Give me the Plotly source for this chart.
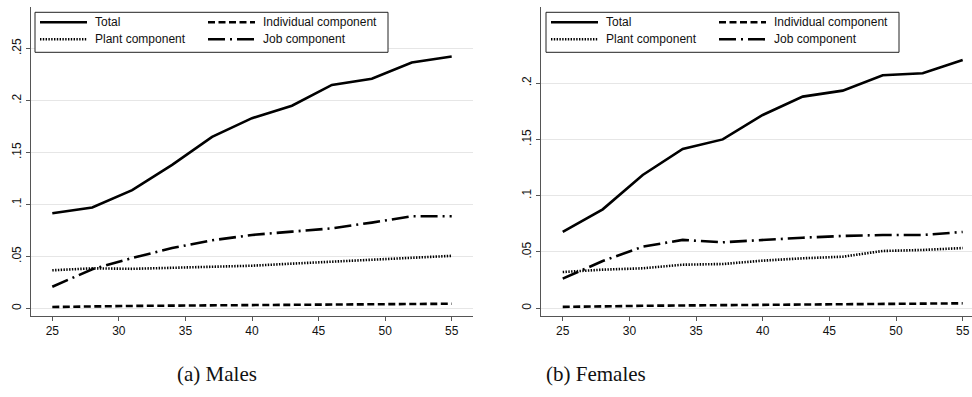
import plotly.graph_objects as go

# Age grid shared by both panels
ages = [25, 28, 31, 34, 37, 40, 43, 46, 49, 52, 55]

# Males
male_total = [0.0915, 0.097, 0.1137, 0.138, 0.165, 0.183, 0.195, 0.215, 0.221, 0.2366, 0.2424]
male_individual = [0.0013, 0.0020, 0.0023, 0.0026, 0.0028, 0.0030, 0.0032, 0.0035, 0.0038, 0.0040, 0.0044]
male_plant = [0.0366, 0.0385, 0.0380, 0.0390, 0.0405, 0.0410, 0.0430, 0.0450, 0.0470, 0.0490, 0.0505]
male_job = [0.0208, 0.0376, 0.0484, 0.0580, 0.0655, 0.0706, 0.0738, 0.0770, 0.0825, 0.0886, 0.0886]

# Females
female_total = [0.0678, 0.0879, 0.1184, 0.1415, 0.1500, 0.1717, 0.1880, 0.1933, 0.2070, 0.2087, 0.2205]
female_individual = [0.0012, 0.0019, 0.0022, 0.0025, 0.0027, 0.0029, 0.0031, 0.0034, 0.0037, 0.0040, 0.0044]
female_plant = [0.0322, 0.0343, 0.0355, 0.0387, 0.0393, 0.0423, 0.0444, 0.0458, 0.0509, 0.0518, 0.0535]
female_job = [0.0263, 0.0420, 0.0547, 0.0607, 0.0586, 0.0607, 0.0627, 0.0642, 0.0651, 0.0651, 0.0678]

series_names = ["Total", "Individual component", "Plant component", "Job component"]
x_ticks = [25, 30, 35, 40, 45, 50, 55]
male_y_ticks = [0, 0.05, 0.1, 0.15, 0.2, 0.25]
male_y_labels = ["0", ".05", ".1", ".15", ".2", ".25"]
female_y_ticks = [0, 0.05, 0.1, 0.15, 0.2]
female_y_labels = ["0", ".05", ".1", ".15", ".2"]
captions = ["(a) Males", "(b) Females"]

W, H = 972, 397
LW = 2.6
dashes = {
    "Total": "solid",
    "Individual component": "7px,3.5px",
    "Plant component": "1.4px,1.4px",
    "Job component": "17px,5px,2px,5px",
}


def px(x):
    return x / W


def py(y):
    return 1 - y / H


fig = go.Figure()

panels = [
    ("x", "y", [male_total, male_individual, male_plant, male_job]),
    ("x2", "y2", [female_total, female_individual, female_plant, female_job]),
]
for xa, ya, values in panels:
    for name, vals in zip(series_names, values):
        fig.add_trace(go.Scatter(
            x=ages, y=vals, xaxis=xa, yaxis=ya, mode="lines", name=name,
            line=dict(color="black", width=LW, dash=dashes[name]),
            showlegend=False, hoverinfo="skip",
        ))

tick_font = dict(family="Liberation Sans, Arial, sans-serif", size=12, color="#111")
axis_common = dict(
    showline=True, linecolor="#555", linewidth=1,
    ticks="outside", ticklen=4, tickcolor="#555", tickwidth=1,
    tickfont=tick_font, zeroline=False, automargin=False, fixedrange=True,
)

fig.update_layout(
    width=W, height=H,
    margin=dict(l=0, r=0, t=0, b=0),
    paper_bgcolor="white", plot_bgcolor="white",
    showlegend=False,
    xaxis=dict(domain=[px(31), px(473)], range=[23.4, 56.6], anchor="y",
               tickvals=x_ticks, showgrid=False, **axis_common),
    yaxis=dict(domain=[py(315.7), py(7)], range=[-0.0071, 0.290], anchor="x",
               tickvals=male_y_ticks, ticktext=male_y_labels, tickangle=-90,
               showgrid=True, gridcolor="#e6e6e6", gridwidth=1, **axis_common),
    xaxis2=dict(domain=[px(541), 1.0], range=[23.37, 25 + (972 - 562.7) / 13.333],
                anchor="y2", tickvals=x_ticks, showgrid=False, **axis_common),
    yaxis2=dict(domain=[py(315.7), py(7)], range=[-0.0066, 0.2676], anchor="x2",
                tickvals=female_y_ticks, ticktext=female_y_labels, tickangle=-90,
                showgrid=True, gridcolor="#e6e6e6", gridwidth=1, **axis_common),
)

# Legend boxes drawn inside each panel
shapes = []
annotations = []
legend_font = dict(family="Liberation Sans, Arial, sans-serif", size=12, color="#111")
for box_left in (35, 546):
    shapes.append(dict(type="rect", xref="paper", yref="paper",
                       x0=px(box_left), x1=px(box_left + 353),
                       y0=py(52.3), y1=py(12.3),
                       line=dict(color="#222", width=1), fillcolor="white", layer="above"))
    slots = [(0, 22.3), (1, 22.3), (0, 39.3), (1, 39.3)]
    order = ["Total", "Individual component", "Plant component", "Job component"]
    for name, (col, row_y) in zip(order, slots):
        sx = box_left + (5 if col == 0 else 173)
        shapes.append(dict(type="line", xref="paper", yref="paper",
                           x0=px(sx), x1=px(sx + 47), y0=py(row_y), y1=py(row_y),
                           line=dict(color="black", width=LW, dash=dashes[name]),
                           layer="above"))
        annotations.append(dict(text=name, xref="paper", yref="paper",
                                x=px(sx + 53), y=py(row_y), xanchor="left",
                                yanchor="middle", showarrow=False, font=legend_font))

caption_font = dict(family="Liberation Serif, Times New Roman, serif", size=21, color="#111")
for text, cx in zip(captions, (217, 596)):
    annotations.append(dict(text=text, xref="paper", yref="paper", x=px(cx), y=py(374),
                            xanchor="center", yanchor="middle", showarrow=False,
                            font=caption_font))

fig.update_layout(shapes=shapes, annotations=annotations)
fig.write_html("out.html")
